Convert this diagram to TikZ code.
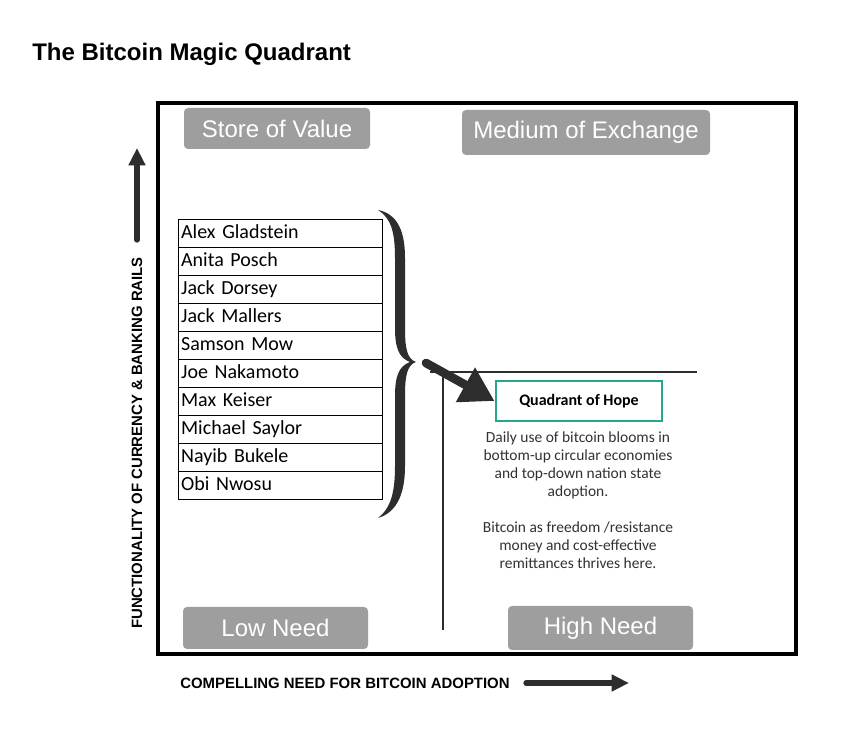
\documentclass[tikz,border=0pt]{standalone}
\usepackage{fontspec}
\setmainfont{Liberation Sans}
\newfontfamily\arialf{Liberation Sans}
\newfontfamily\calib{Carlito}
\usetikzlibrary{arrows.meta,shapes.misc}
\definecolor{boxgray}{RGB}{158,158,158}
\definecolor{teal2}{RGB}{38,166,140}
\definecolor{darkline}{RGB}{45,45,45}
\definecolor{desc}{RGB}{50,50,50}
\tikzset{
  graylabel/.style={fill=boxgray, rounded corners=3pt, text=white, inner sep=0pt,
     font=\arialf\fontsize{18}{21}\selectfont},
  namerow/.style={draw=black, line width=0.7pt, anchor=north west, minimum width=153pt,
     minimum height=21pt, text width=149pt, text height=10.5pt, text depth=3pt,
     inner xsep=2pt, inner ysep=0pt, align=left,
     font=\calib\fontsize{15}{17}\selectfont},
  axistext/.style={font=\arialf\bfseries\fontsize{11.2}{13}\selectfont},
  bigarrow/.style={draw=darkline, line width=4pt, line cap=round,
     -{Triangle[length=13pt,width=12pt]}},
}
\begin{document}
\begin{tikzpicture}[x=0.75pt,y=-0.75pt]
\useasboundingbox (0,0) rectangle (854,737);
\fill[white] (0,0) rectangle (854,737);

% title
\node[anchor=west, inner sep=0pt, font=\arialf\bfseries\fontsize{18}{21}\selectfont] (title) at (32,54) {The Bitcoin Magic Quadrant};

% frame
\draw[line width=2.3pt] (158,103) rectangle (796,654);

% quadrant lines
\draw[darkline, line width=1.2pt] (430,372) -- (697,372);
\draw[darkline, line width=1.2pt] (443,372) -- (443,630);

% gray labels
\node[graylabel, minimum width=139.5pt, minimum height=30.75pt] (sov) at (277,128.5) {Store of Value};
\node[graylabel, minimum width=186pt, minimum height=33.75pt] (moe) at (586,132.5) {Medium of Exchange};
\node[graylabel, minimum width=138.75pt, minimum height=31.5pt] (low) at (275.5,628) {Low Need};
\node[graylabel, minimum width=138.75pt, minimum height=33pt] (high) at (600.5,628) {High Need};

% names table
\node[namerow] (n1) at (178,219) {Alex Gladstein};
\node[namerow] (n2) at (178,247) {Anita Posch};
\node[namerow] (n3) at (178,275) {Jack Dorsey};
\node[namerow] (n4) at (178,303) {Jack Mallers};
\node[namerow] (n5) at (178,331) {Samson Mow};
\node[namerow] (n6) at (178,359) {Joe Nakamoto};
\node[namerow] (n7) at (178,387) {Max Keiser};
\node[namerow] (n8) at (178,415) {Michael Saylor};
\node[namerow] (n9) at (178,443) {Nayib Bukele};
\node[namerow] (n10) at (178,471) {Obi Nwosu};

% brace
\fill[darkline] (378,210) .. controls (398,214) and (405,232) .. (405,258)
  -- (405,328) .. controls (405,348) and (407,359) .. (416,362)
  .. controls (407,365) and (405,376) .. (405,396)
  -- (405,466) .. controls (405,492) and (398,512) .. (378,518)
  .. controls (391,508) and (395,492) .. (395,466)
  -- (395,396) .. controls (395,376) and (399,366) .. (410,362)
  .. controls (399,358) and (395,348) .. (395,328)
  -- (395,258) .. controls (395,232) and (391,218) .. (378,210) -- cycle;

% quadrant of hope
\node[draw=teal2, line width=2.2pt, minimum width=124.5pt, minimum height=30pt, inner sep=0pt,
  font=\calib\bfseries\fontsize{12}{14}\selectfont] (hope) at (579,401) {Quadrant of Hope};
\node[align=center, text=desc, inner sep=0pt, font=\calib\fontsize{11.6}{13.5}\selectfont] (desc) at (578,500)
  {Daily use of bitcoin blooms in\\bottom-up circular economies\\and top-down nation state\\adoption.\\[13.5pt]Bitcoin as freedom /resistance\\money and cost-effective\\remittances thrives here.};

% arrow from brace to hope
\coordinate (bstart) at (426,363);
\draw[draw=darkline, line width=6.5pt, line cap=round, -{Triangle[length=25pt,width=28pt]}]
  (bstart) -- (hope.west);

% axes
\coordinate (ybot) at (137,240);
\coordinate (ytop) at (137,148);
\draw[bigarrow] (ybot) -- (ytop);
\node[axistext, rotate=90] (ylab) at (137,443) {FUNCTIONALITY OF CURRENCY \& BANKING RAILS};

\node[axistext, anchor=west, inner sep=0pt] (xlab) at (180,683) {COMPELLING NEED FOR BITCOIN ADOPTION};
\coordinate (xl) at (526,683);
\coordinate (xr) at (629,683);
\draw[bigarrow] (xl) -- (xr);
\end{tikzpicture}
\end{document}
